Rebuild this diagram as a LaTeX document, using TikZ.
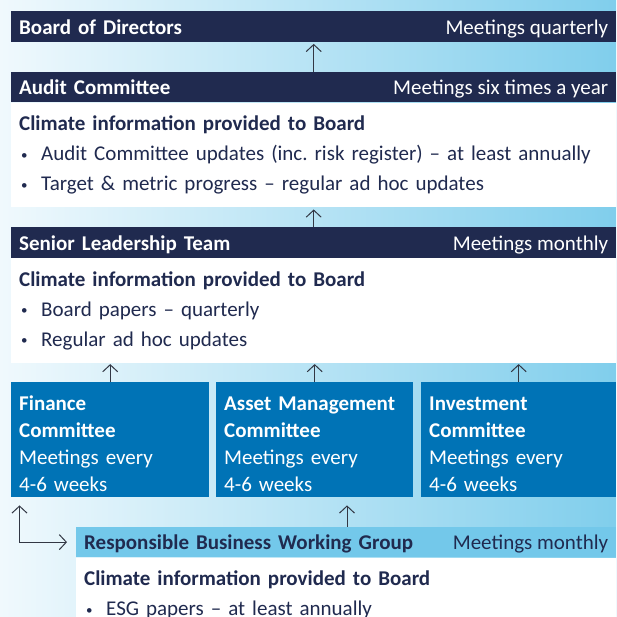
\documentclass[tikz,border=0pt]{standalone}
\usepackage{fontspec}
\setmainfont{Carlito}
\usetikzlibrary{arrows.meta,positioning}

\definecolor{navy}{RGB}{32,42,79}
\definecolor{cblue}{RGB}{0,115,182}
\definecolor{rblue}{RGB}{115,200,234}
\definecolor{bgleft}{RGB}{240,249,253}
\definecolor{bgright}{RGB}{128,206,236}
\definecolor{arrowgrey}{RGB}{50,55,68}

% small bullet with a fixed hanging indent
\newcommand{\bitem}{\makebox[22pt][l]{\hspace{2pt}\raisebox{1.5pt}{\fontsize{13}{13}\selectfont\textbullet}}}

\begin{document}
\begin{tikzpicture}[x=1pt,y=-1pt,
    >={Straight Barb[length=7pt,width=15pt]},
    bar/.style={anchor=north west, fill=navy, text=white,
      font=\bfseries\fontsize{21}{25}\selectfont, align=left,
      minimum width=605pt, text width=589pt, inner xsep=8pt, inner ysep=0pt,
      text height=23pt, text depth=7.5pt},
    rbbar/.style={bar, fill=rblue, text=navy, minimum width=540pt, text width=524pt},
    meet/.style={inner sep=0pt, anchor=base east, xshift=-8pt, text=white,
      font=\fontsize{21}{25}\selectfont},
    panel/.style={anchor=north west, fill=white, text=navy,
      font=\fontsize{21}{30}\selectfont, align=left,
      text width=589pt, inner xsep=8pt, inner ysep=0pt,
      text height=28pt, text depth=76.5pt},
    cttee/.style={anchor=north west, fill=cblue, text=white,
      font=\fontsize{21}{27}\selectfont, align=left,
      inner xsep=8pt, inner ysep=0pt, text height=28pt, text depth=87pt},
    flow/.style={line width=1pt, draw=arrowgrey}]

  \clip (0,0) rectangle (616,617);
  \shade[left color=bgleft, right color=bgright] (0,0) rectangle (616,617);

  % board and audit committee
  \node[bar] (board) at (11,11) {Board of Directors};
  \node[meet] (boardmeet) at (board.base east) {Meetings quarterly};
  \node[bar] (audit) at (11,71.7) {Audit Committee};
  \node[meet] (auditmeet) at (audit.base east) {Meetings six times a year};
  \node[panel] (auditinfo) at (audit.south west)
    {\textbf{Climate information provided to Board}\\
     \bitem Audit Committee updates (inc.\ risk register) -- at least annually\\
     \bitem Target \& metric progress -- regular ad hoc updates};

  % senior leadership
  \node[bar] (slt) at (11,227.3) {Senior Leadership Team};
  \node[meet] (sltmeet) at (slt.base east) {Meetings monthly};
  \node[panel] (sltinfo) at (slt.south west)
    {\textbf{Climate information provided to Board}\\
     \bitem Board papers -- quarterly\\
     \bitem Regular ad hoc updates};

  % committees
  \node[cttee, minimum width=198pt, text width=182pt] (fin) at (11,382)
    {\textbf{Finance}\\\textbf{Committee}\\Meetings every\\4-6 weeks};
  \node[cttee, minimum width=197pt, text width=181pt] (asset) at (216,382)
    {\textbf{Asset Management}\\\textbf{Committee}\\Meetings every\\4-6 weeks};
  \node[cttee, minimum width=195pt, text width=179pt] (invest) at (421,382)
    {\textbf{Investment}\\\textbf{Committee}\\Meetings every\\4-6 weeks};

  % working group
  \node[rbbar] (rbwg) at (76,526.7) {Responsible Business Working Group};
  \node[meet, text=navy] (rbwgmeet) at (rbwg.base east) {Meetings monthly};
  \node[panel, text width=524pt] (rbwginfo) at (rbwg.south west)
    {\textbf{Climate information provided to Board}\\
     \bitem ESG papers -- at least annually};

  % reporting lines
  \draw[flow, ->, shorten >=2pt] (audit.north) -- (board.south);
  \draw[flow, ->, shorten >=2pt] (slt.north) -- (auditinfo.south);
  \foreach \c in {fin,asset,invest}
    \draw[flow, ->, shorten >=1pt] (\c.north) -- (\c.north |- sltinfo.south);
  \coordinate (rbup) at ([xshift=271pt]rbwg.north west);
  \draw[flow, ->, shorten >=8pt] (rbup) -- (rbup |- asset.south);
  \draw[flow, <->, shorten <=8pt, shorten >=9pt]
    ([xshift=8.5pt]fin.south west) |- (rbwg.west);
\end{tikzpicture}
\end{document}
